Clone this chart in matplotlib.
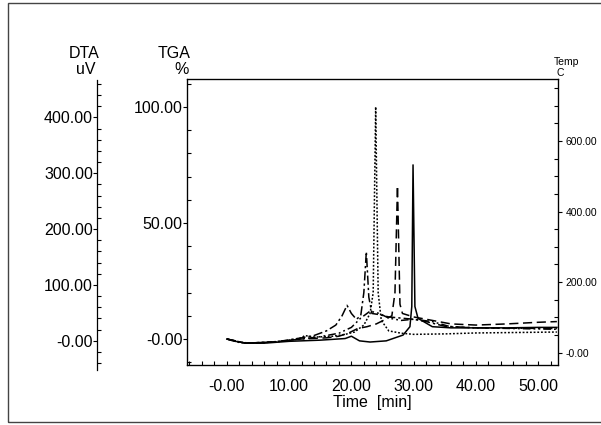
# -*- coding: utf-8 -*-
"""
DTA/TGA thermogram with three vertical scales.
"""
import matplotlib
matplotlib.use('Agg')
import matplotlib.pyplot as plt
from matplotlib.patches import Rectangle
from matplotlib.ticker import MultipleLocator, FuncFormatter

plt.rcParams['font.family'] = ['Liberation Sans', 'DejaVu Sans']

# Curves: time [min] and signal (in TGA-scale units).
solid_t = [0, 1, 3, 6, 10, 15, 19, 20, 21.3, 23, 25.6, 28.3, 29.4, 29.7, 29.9, 30.2, 30.7, 33, 36, 40, 45, 50, 53]
solid_y = [0, -0.8, -1.8, -1.8, -1.0, -0.5, 0.2, 1.2, -0.8, -1.3, -0.8, 1.7, 5.3, 14, 75, 14, 8.9, 5.3, 4.8, 4.8, 4.8, 5.0, 5.0]

dotted_t = [0, 2, 5, 10, 12, 12.5, 14, 17, 19, 20.5, 22, 23, 23.5, 23.9, 24.3, 24.8, 26, 28, 30, 35, 40, 53]
dotted_y = [0, -1.5, -1.8, -0.6, 0.5, 1.5, 0.8, 1.2, 2.0, 3.0, 6, 11, 20, 100, 20, 8, 3.5, 2.5, 2.0, 2.2, 2.6, 3.0]

dashdot_t = [0, 3, 8, 12, 14, 16, 17.5, 18.5, 19.3, 20, 20.8, 21.5, 22, 22.4, 22.8, 23.3, 24.5, 26, 28, 30, 32, 35, 40, 53]
dashdot_y = [0, -1.8, -1.2, 0.5, 1.5, 3.5, 6, 10, 14.5, 11, 8.5, 10, 20, 37.6, 18, 11, 10.5, 9.5, 9, 8.5, 7.5, 5.5, 4.8, 4.5]

dashed_t = [0, 3, 8, 12, 16, 18, 19.5, 21, 22.5, 24, 25.5, 26.5, 27, 27.4, 27.8, 28.2, 30, 33, 36, 40, 45, 50, 53]
dashed_y = [0, -1.8, -1.2, 0, 0.5, 1.2, 2.5, 4.5, 5.3, 6.5, 8.5, 10, 20, 66, 15, 11, 9.5, 8, 6.5, 6, 6.5, 7.2, 7.5]

dashdotdot_t = [0, 3, 8, 12, 15, 18, 20, 21.5, 23, 24.5, 26, 28, 30, 33, 36, 40, 53]
dashdotdot_y = [0, -1.8, -1.2, 0, 1, 2.5, 5, 9, 12, 11, 9, 8, 8.5, 7.5, 5.2, 4.8, 4.2]

curves = [
    (solid_t, solid_y, '-'),
    (dotted_t, dotted_y, (0, (1.2, 1.2))),
    (dashdot_t, dashdot_y, (0, (6, 2, 1.5, 2))),
    (dashed_t, dashed_y, (0, (6, 3))),
    (dashdotdot_t, dashdotdot_y, (0, (5, 2, 1.2, 2, 1.2, 2))),
]

W, H = 601, 425


def fmt(v, pos):
    """Подписи делений в стиле прибора: ноль как -0.00."""
    if abs(v) < 1e-9:
        return '-0.00'
    return '%.2f' % v


def px_box(left, top, right, bottom):
    return [left / W, 1 - bottom / H, (right - left) / W, (bottom - top) / H]


fig = plt.figure(figsize=(W / 100, H / 100), dpi=100)

# Outer frame.
fig.patches.append(Rectangle((8 / W, 3 / H), 1.2, (422 - 3) / H, transform=fig.transFigure,
                             fill=False, edgecolor='#444444', lw=1.0, clip_on=False))

ax = fig.add_axes(px_box(187, 79, 557.5, 365))
for t, y, ls in curves:
    ax.plot(t, y, color='black', lw=1.1, linestyle=ls)

ax.set_xlim(-6.4, 53.1)
ax.set_ylim(-11.2, 112)
for s in ax.spines.values():
    s.set_linewidth(0.9)

ax.xaxis.set_major_locator(MultipleLocator(10))
ax.xaxis.set_minor_locator(MultipleLocator(2))
ax.xaxis.set_major_formatter(FuncFormatter(fmt))
ax.yaxis.set_major_locator(MultipleLocator(50))
ax.yaxis.set_minor_locator(MultipleLocator(10))
ax.yaxis.set_major_formatter(FuncFormatter(fmt))
ax.tick_params(axis='x', which='both', direction='in', length=3, width=0.8, labelsize=11.5, pad=10)
ax.tick_params(axis='y', which='major', direction='out', length=3, width=0.8, labelsize=11.5, pad=0)
ax.tick_params(axis='y', which='minor', direction='in', length=3, width=0.8)
ax.set_xlabel('Time  [min]', fontsize=11.5, labelpad=1)

# Temperature axis on the right.
axt = ax.twinx()
axt.set_ylim(-35, 776)
axt.yaxis.set_major_locator(MultipleLocator(200))
axt.yaxis.set_minor_locator(MultipleLocator(50))
axt.yaxis.set_major_formatter(FuncFormatter(fmt))
axt.tick_params(axis='y', which='major', direction='out', length=3, width=0.8, labelsize=7.5, pad=3)
axt.tick_params(axis='y', which='minor', direction='in', length=3, width=0.8)

# DTA axis: a bare spine on the far left.
axd = fig.add_axes(px_box(97, 80, 98, 370))
axd.set_ylim(-52.5, 467)
axd.patch.set_visible(False)
for name in ('top', 'right', 'bottom'):
    axd.spines[name].set_visible(False)
axd.spines['left'].set_linewidth(0.9)
axd.set_xticks([])
axd.yaxis.set_major_locator(MultipleLocator(100))
axd.yaxis.set_minor_locator(MultipleLocator(20))
axd.yaxis.set_major_formatter(FuncFormatter(fmt))
axd.tick_params(axis='y', which='major', direction='out', length=3, width=0.8, labelsize=11.5, pad=0)
axd.tick_params(axis='y', which='minor', direction='in', length=3, width=0.8)

# Axis titles.
fig.text(84 / W, 1 - 53 / H, 'DTA', ha='center', va='center', fontsize=11.5)
fig.text(86 / W, 1 - 70 / H, 'uV', ha='center', va='center', fontsize=11.5)
fig.text(174 / W, 1 - 53 / H, 'TGA', ha='center', va='center', fontsize=11.5)
fig.text(182 / W, 1 - 70 / H, '%', ha='center', va='center', fontsize=11.5)
fig.text(567 / W, 1 - 62 / H, 'Temp', ha='center', va='center', fontsize=7.5)
fig.text(560 / W, 1 - 73 / H, 'C', ha='center', va='center', fontsize=7.5)

fig.savefig('out.png', dpi=100)
